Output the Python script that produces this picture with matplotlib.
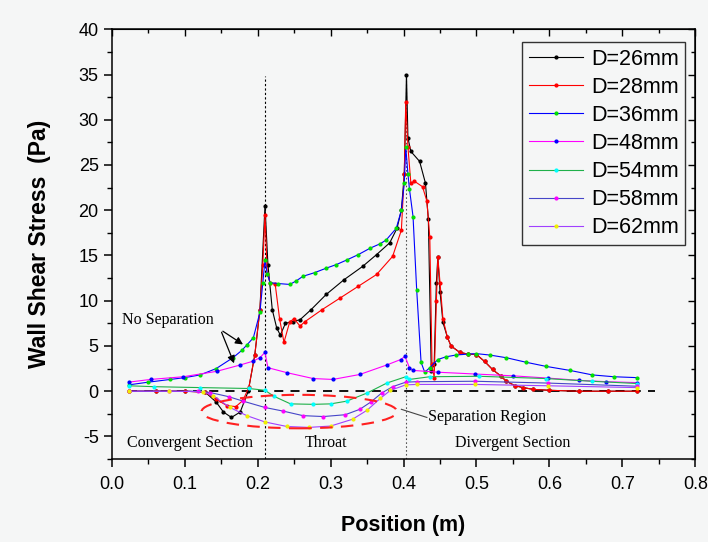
import matplotlib
matplotlib.use('Agg')
import matplotlib.pyplot as plt
from matplotlib.patches import Ellipse

# wall shear stress along the nozzle, one pair of lists per diameter
x26 = [0.023, 0.06, 0.10, 0.128, 0.143, 0.153, 0.164, 0.176, 0.187, 0.196,
       0.203, 0.210, 0.214, 0.220, 0.226, 0.231, 0.238, 0.248, 0.258, 0.273,
       0.294, 0.318, 0.344, 0.363, 0.381, 0.391, 0.397, 0.401, 0.404, 0.406,
       0.410, 0.422, 0.430, 0.434, 0.438, 0.442, 0.445, 0.447, 0.450, 0.454,
       0.460, 0.465, 0.477, 0.488, 0.500, 0.511, 0.522, 0.533, 0.541, 0.553,
       0.564, 0.578, 0.60, 0.64, 0.68, 0.72]
y26 = [0, 0, 0, -0.1, -1.2, -2.3, -2.9, -2.3, 0, 4,
       9, 20.5, 14, 9, 7, 6.2, 7.5, 7.7, 7.9, 9.0,
       10.7, 12.3, 13.8, 15.1, 16.4, 18, 20, 24, 35, 28,
       26.5, 25.4, 23, 19, 2.2, 3, 12, 14.8, 11, 7.6,
       6, 5.0, 4.3, 4.1, 4.05, 3.3, 2.4, 1.7, 1.1, 0.6,
       0.4, 0.2, 0.1, 0, 0, 0]

x28 = [0.023, 0.06, 0.10, 0.128, 0.143, 0.158, 0.170, 0.180, 0.188, 0.196,
       0.203, 0.207, 0.210, 0.213, 0.217, 0.224, 0.230, 0.236, 0.244, 0.250,
       0.258, 0.265, 0.288, 0.313, 0.338, 0.363, 0.385, 0.397, 0.401, 0.403,
       0.406, 0.410, 0.415, 0.426, 0.432, 0.436, 0.439, 0.442, 0.445, 0.447,
       0.450, 0.454, 0.460, 0.465, 0.477, 0.488, 0.500, 0.511, 0.522, 0.533,
       0.541, 0.553, 0.564, 0.578, 0.60, 0.64, 0.68, 0.72]
y28 = [0, 0, 0, -0.1, -0.9, -1.6, -1.7, -1.0, 0.5, 4,
       9, 14, 19.5, 13, 12, 11.8, 8, 5.4, 7.7, 8,
       7.2, 7.7, 9, 10.3, 11.6, 12.9, 14.9, 17.8, 24, 32,
       27, 23, 23.2, 22.6, 21, 17, 3, 1.5, 10, 14.8,
       12, 8, 6, 5.0, 4.3, 4.1, 4.05, 3.3, 2.4, 1.7,
       1.1, 0.6, 0.4, 0.2, 0.1, 0, 0, 0]

x36 = [0.023, 0.05, 0.08, 0.10, 0.121, 0.143, 0.166, 0.178, 0.185, 0.194,
       0.203, 0.207, 0.210, 0.213, 0.217, 0.228, 0.244, 0.253, 0.262, 0.278,
       0.294, 0.308, 0.322, 0.338, 0.354, 0.368, 0.376, 0.390, 0.397, 0.401,
       0.403, 0.406, 0.408, 0.413, 0.418, 0.424, 0.429, 0.436, 0.447, 0.458,
       0.472, 0.488, 0.500, 0.518, 0.541, 0.568, 0.595, 0.628, 0.659, 0.688,
       0.720]
y36 = [0.7, 1.0, 1.3, 1.5, 1.8, 2.5, 3.7, 4.5, 5.1, 5.9,
       8.7, 12, 14.5, 13, 12, 11.9, 11.8, 12.2, 12.7, 13.1,
       13.6, 14.0, 14.5, 15.1, 15.8, 16.3, 16.7, 18.0, 20, 23,
       27, 24, 22.4, 19.3, 11.2, 3.2, 2.1, 2.6, 3.5, 3.8,
       4.0, 4.1, 4.15, 4.0, 3.7, 3.2, 2.75, 2.3, 1.8, 1.6,
       1.5]

x48 = [0.023, 0.053, 0.098, 0.144, 0.176, 0.193, 0.203, 0.210, 0.214, 0.240,
       0.276, 0.303, 0.340, 0.377, 0.396, 0.402, 0.408, 0.413, 0.447, 0.498,
       0.550, 0.598, 0.641, 0.678, 0.720]
y48 = [1.0, 1.3, 1.6, 2.2, 2.9, 3.3, 3.7, 4.3, 2.6, 2.05,
       1.4, 1.3, 1.85, 2.9, 3.5, 3.85, 2.6, 2.3, 2.1, 1.9,
       1.7, 1.45, 1.2, 1.05, 0.95]

x54 = [0.023, 0.058, 0.121, 0.188, 0.210, 0.222, 0.245, 0.276, 0.30, 0.322,
       0.35, 0.377, 0.403, 0.408, 0.436, 0.504, 0.595, 0.658, 0.720]
y54 = [0.6, 0.5, 0.4, 0.3, 0.1, -0.55, -1.4, -1.45, -1.4, -1.1,
       -0.2, 0.9, 1.6, 1.3, 1.6, 1.65, 1.4, 1.1, 0.85]

x58 = [0.023, 0.078, 0.118, 0.135, 0.16, 0.18, 0.21, 0.235, 0.262, 0.29,
       0.32, 0.34, 0.355, 0.37, 0.385, 0.403, 0.418, 0.498, 0.598, 0.72]
y58 = [0, 0, 0, -0.15, -0.6, -1.1, -1.8, -2.2, -2.7, -2.8,
       -2.6, -2.0, -1.2, -0.2, 0.5, 1.0, 1.05, 1.1, 0.9, 0.55]

x62 = [0.023, 0.078, 0.125, 0.139, 0.162, 0.185, 0.21, 0.24, 0.27, 0.30,
       0.33, 0.35, 0.368, 0.382, 0.403, 0.418, 0.498, 0.598, 0.72]
y62 = [0, 0, -0.05, -0.5, -1.8, -2.7, -3.4, -3.9, -4.0, -3.85,
       -3.1, -2.1, -0.8, 0.1, 0.7, 0.75, 0.75, 0.6, 0.4]

labels = ['D=26mm', 'D=28mm', 'D=36mm', 'D=48mm', 'D=54mm', 'D=58mm', 'D=62mm']
xs = [x26, x28, x36, x48, x54, x58, x62]
ys = [y26, y28, y36, y48, y54, y58, y62]
line_colors = ['#000000', '#ff0000', '#0000ff', '#ff00ff', '#1fb04a', '#4646c8', '#a040ff']
marker_colors = ['#000000', '#ff0000', '#00e000', '#0000ff', '#00ffff', '#ff00ff', '#f0f000']

bg = '#f5f6f6'
fig = plt.figure(figsize=(7.08, 5.42), dpi=100, facecolor=bg)
ax = fig.add_axes([0.158, 0.153, 0.824, 0.793], facecolor=bg)

for i in range(len(labels)):
    ax.plot(xs[i], ys[i], '-', color=line_colors[i], lw=0.8, marker='o',
            ms=2.0, mfc=marker_colors[i], mec=marker_colors[i], label=labels[i])

# reference lines
ax.plot([0.022, 0.745], [0, 0], color='black', lw=1.3, ls=(0, (5, 4)), zorder=1)
ax.plot([0.210, 0.210], [-7.5, 34.8], color='black', lw=0.8, ls=(0, (2, 2)), zorder=1)
ax.plot([0.404, 0.404], [-7.5, 34.8], color='#555555', lw=0.8, ls=(0, (1.5, 2)), zorder=1)

# separation region outline
ax.add_patch(Ellipse((0.257, -2.25), 0.268, 3.7, fill=False, ec='#ff2020',
                     lw=1.5, ls=(0, (6, 4)), zorder=3))

serif = ['Liberation Serif', 'DejaVu Serif']
ax.text(0.014, 7.9, 'No Separation', family=serif, fontsize=11.5, va='center', ha='left')
ax.annotate('', xy=(0.183, 5.0), xytext=(0.149, 6.8),
            arrowprops=dict(arrowstyle='-|>', color='black', lw=0.9, mutation_scale=11))
ax.annotate('', xy=(0.169, 2.8), xytext=(0.149, 6.8),
            arrowprops=dict(arrowstyle='-|>', color='black', lw=0.9, mutation_scale=11))
ax.plot([0.397, 0.432], [-2.0, -2.9], color='#444444', lw=0.8)
ax.text(0.434, -2.9, 'Separation Region', family=serif, fontsize=11.5, va='center', ha='left')
ax.text(0.107, -5.7, 'Convergent Section', family=serif, fontsize=11.5, va='center', ha='center')
ax.text(0.294, -5.7, 'Throat', family=serif, fontsize=11.5, va='center', ha='center')
ax.text(0.549, -5.7, 'Divergent Section', family=serif, fontsize=11.5, va='center', ha='center')

ax.set_xlim(0, 0.8)
ax.set_ylim(-7.5, 40)
ax.set_xticks([0.0, 0.1, 0.2, 0.3, 0.4, 0.5, 0.6, 0.7, 0.8])
ax.set_xticks([0.05, 0.15, 0.25, 0.35, 0.45, 0.55, 0.65, 0.75], minor=True)
ax.set_yticks([-5, 0, 5, 10, 15, 20, 25, 30, 35, 40])
ax.set_yticks([-7.5, -2.5, 2.5, 7.5, 12.5, 17.5, 22.5, 27.5, 32.5, 37.5], minor=True)
ax.set_xticklabels(['0.0', '0.1', '0.2', '0.3', '0.4', '0.5', '0.6', '0.7', '0.8'])
ax.set_yticklabels(['-5', '0', '5', '10', '15', '20', '25', '30', '35', '40'])

sans = ['Liberation Sans', 'DejaVu Sans']
for lab in ax.get_xticklabels() + ax.get_yticklabels():
    lab.set_family(sans)
    lab.set_fontsize(13)
ax.tick_params(which='major', direction='out', length=6, width=1.1)
ax.tick_params(axis='x', which='major', pad=6)
ax.tick_params(which='minor', direction='out', length=3.5, width=1.0)

# inward ticks on the top and right sides
top = ax.secondary_xaxis('top')
top.set_xticks([0.0, 0.1, 0.2, 0.3, 0.4, 0.5, 0.6, 0.7, 0.8])
top.set_xticks([0.05, 0.15, 0.25, 0.35, 0.45, 0.55, 0.65, 0.75], minor=True)
top.tick_params(which='both', direction='in', labeltop=False, width=1.0)
top.tick_params(which='major', length=5)
top.tick_params(which='minor', length=3)
right = ax.secondary_yaxis('right')
right.set_yticks([-5, 0, 5, 10, 15, 20, 25, 30, 35, 40])
right.set_yticks([-7.5, -2.5, 2.5, 7.5, 12.5, 17.5, 22.5, 27.5, 32.5, 37.5], minor=True)
right.tick_params(which='both', direction='in', labelright=False, width=1.0)
right.tick_params(which='major', length=5)
right.tick_params(which='minor', length=3)

for s in ax.spines.values():
    s.set_linewidth(1.1)

ax.set_xlabel('Position (m)', family=sans, fontsize=15.5, fontweight='bold', labelpad=16)
ax.set_ylabel('Wall Shear Stress  (Pa)', family=sans, fontsize=16.5, fontweight='bold', labelpad=20)

leg = ax.legend(loc='upper right', bbox_to_anchor=(0.983, 0.97), prop={'family': sans, 'size': 15.5},
                numpoints=1, handlelength=2.5, handletextpad=0.4, labelspacing=0.33,
                borderpad=0.3, borderaxespad=0.0, fancybox=False, framealpha=1.0,
                facecolor=bg, edgecolor='#333333')
leg.get_frame().set_linewidth(1.0)

fig.savefig('out.png', dpi=100, facecolor=bg)
